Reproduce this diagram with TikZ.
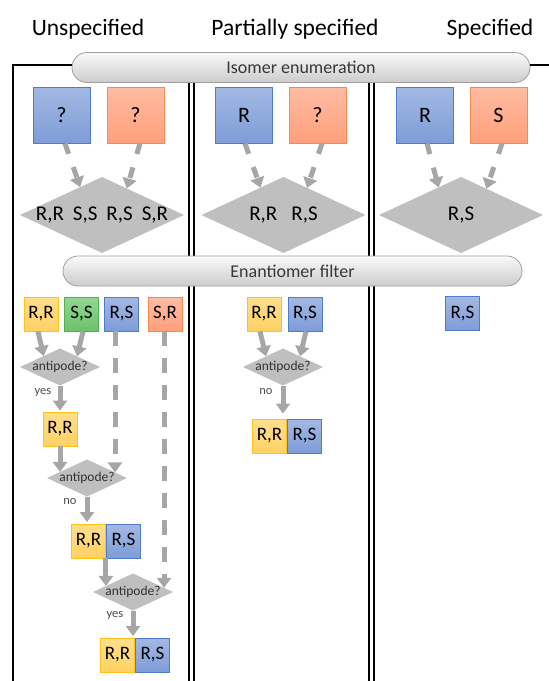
\documentclass[tikz,border=0pt]{standalone}
\usepackage{fontspec}
\setmainfont{Carlito}
\usetikzlibrary{shapes.geometric,arrows.meta,calc}

\definecolor{bluetop}{HTML}{A3B9E4}
\definecolor{bluebot}{HTML}{7E9CD8}
\definecolor{blueline}{HTML}{4E7CCB}
\definecolor{orangetop}{HTML}{FFBCA2}
\definecolor{orangebot}{HTML}{FF9F7C}
\definecolor{orangeline}{HTML}{F58A4E}
\definecolor{yellowtop}{HTML}{FFDF8C}
\definecolor{yellowbot}{HTML}{FFD164}
\definecolor{yellowline}{HTML}{FFC21A}
\definecolor{greentop}{HTML}{92D692}
\definecolor{greenbot}{HTML}{6CC26C}
\definecolor{greenline}{HTML}{55AD55}

\begin{document}
\begin{tikzpicture}[x=1pt,y=-1pt,
  header/.style={font=\fontsize{23.5}{28}\selectfont, anchor=base, inner sep=0pt},
  pill/.style={draw=gray!75, line width=0.8pt, rounded corners=15pt,
    top color=gray!4, bottom color=gray!40, minimum height=30pt, inner sep=0pt,
    font=\fontsize{18}{20}\selectfont, text=black!78},
  bigbox/.style={minimum width=57pt, minimum height=56pt, inner sep=0pt,
    line width=0.9pt, font=\fontsize{22}{24}\selectfont},
  smallbox/.style={minimum width=34pt, minimum height=34pt, inner sep=0pt,
    line width=0.9pt, font=\fontsize{19}{20}\selectfont},
  blu/.style={draw=blueline, top color=bluetop, bottom color=bluebot},
  org/.style={draw=orangeline, top color=orangetop, bottom color=orangebot},
  yel/.style={draw=yellowline, top color=yellowtop, bottom color=yellowbot},
  grn/.style={draw=greenline, top color=greentop, bottom color=greenbot},
  bigdia/.style={diamond, fill=gray!50, minimum width=164pt, minimum height=76pt,
    inner sep=0pt, outer sep=0pt},
  smalldia/.style={diamond, fill=gray!50, minimum width=80pt, minimum height=37pt,
    inner sep=0pt, outer sep=0pt},
  diatext/.style={font=\fontsize{21}{24}\selectfont, inner sep=0pt},
  asktext/.style={font=\fontsize{13.5}{15}\selectfont, inner sep=0pt, text=black!80},
  answer/.style={font=\fontsize{12.5}{14}\selectfont, inner sep=0pt, text=black!70},
  flow/.style={draw=gray!70, line width=5pt, -{Triangle[width=14pt,length=10pt]}},
  brk/.style={flow, dash pattern=on 11pt off 14pt},
  longdash/.style={flow, dash pattern=on 15pt off 12pt},
  frame/.style={line width=1.4pt},
  divider/.style={line width=1.2pt},
]
\useasboundingbox (0,0) rectangle (549,681);

% column headings
\node[header] (hU) at (88,35) {Unspecified};
\node[header] (hP) at (295,35) {Partially specified};
\node[header] (hS) at (490,35) {Specified};

% column dividers (double rules)
\draw[divider] (189,83) -- (189,682);
\draw[divider] (194,83) -- (194,682);
\draw[divider] (369,83) -- (369,682);
\draw[divider] (374,83) -- (374,682);

% stage bars
\node[pill, minimum width=458pt] (pill1) at (301,67.5) {Isomer enumeration};
\node[pill, minimum width=459pt] (pill2) at (292.5,271) {Enantiomer filter};

% outer frame
\coordinate (fbl) at (13,682);
\coordinate (fr) at (551,65);
\draw[frame] ($(pill1.west)+(0.2,-2.5)$) -| (fbl);
\draw[frame] ($(pill1.east)+(-0.2,-2.5)$) -- (fr);

% ---- isomer enumeration ----
\node[bigbox, blu] (b1) at (61.5,115) {?};
\node[bigbox, org] (o1) at (135.5,115) {?};
\node[bigbox, blu] (b2) at (244,115) {R};
\node[bigbox, org] (o2) at (317.5,115) {?};
\node[bigbox, blu] (b3) at (425,115) {R};
\node[bigbox, org] (o3) at (498.5,115) {S};

\node[bigdia] (d1) at (102,215) {};
\node[bigdia] (d2) at (283.5,215) {};
\node[bigdia] (d3) at (461,215) {};
\node[diatext] (d1t) at (d1) {R,R\hspace{9pt}S,S\hspace{9pt}R,S\hspace{9pt}S,R};
\node[diatext] (d2t) at (d2) {R,R\hspace{14pt}R,S};
\node[diatext] (d3t) at (d3) {R,S};

\draw[brk] ($(b1.south)+(3.5,0)$) -- (d1.128);
\draw[brk] ($(o1.south)+(4.5,0)$) -- (d1.47);
\draw[brk] ($(b2.south)+(1,0)$) -- (d2.130);
\draw[brk] ($(o2.south)+(4.5,0)$) -- (d2.49);
\draw[brk] ($(b3.south)+(2,0)$) -- (d3.129);
\draw[brk] ($(o3.south)+(3.5,0)$) -- (d3.46);

% ---- enantiomer filter: unspecified ----
\node[smallbox, yel] (rr1) at (41,314) {R,R};
\node[smallbox, grn] (ss1) at (81.5,314) {S,S};
\node[smallbox, blu] (rs1) at (121.5,314) {R,S};
\node[smallbox, org] (sr1) at (165,314) {S,R};

\node[smalldia] (a1) at (60,367) {};
\node[asktext] (a1t) at (a1) {antipode?};
\draw[flow] ($(rr1.south)+(-3,0)$) -- (a1.146);
\draw[flow] ($(ss1.south)+(1.5,0)$) -- (a1.32);
\node[answer] (y1) at (43,392) {yes};

\node[smallbox, yel] (rr2) at (60,429) {R,R};
\draw[flow, shorten >=1pt] (a1.south) -- (rr2.north);

\node[smalldia] (a2) at (87,478) {};
\node[asktext] (a2t) at (a2) {antipode?};
\coordinate (t3) at ($(a2.west)!0.325!(a2.north)$);
\coordinate (t1) at ($(a2.east)!0.3!(a2.north)$);
\draw[flow] (rr2.south) -- (rr2.south |- t3);
\draw[longdash] (rs1.south -| t1) -- (t1);
\node[answer] (n1) at (70,502) {no};

\node[smallbox, yel] (rr3) at (88.5,541) {R,R};
\node[smallbox, blu, anchor=west] (rs3) at (rr3.east) {R,S};
\draw[flow, shorten >=1.5pt] (a2.south) -- (a2.south |- rr3.north);

\node[smalldia] (a3) at (133,592) {};
\node[asktext] (a3t) at (a3) {antipode?};
\coordinate (t4) at ($(a3.west)!0.325!(a3.north)$);
\coordinate (t2) at ($(a3.east)!0.225!(a3.north)$);
\draw[flow] (rr3.south east) -- (rr3.south east |- t4);
\draw[longdash] (sr1.south -| t2) -- (t2);
\node[answer] (y2) at (115,615) {yes};

\node[smallbox, yel] (rr4) at (117.5,655) {R,R};
\node[smallbox, blu, anchor=west] (rs4) at (rr4.east) {R,S};
\draw[flow, shorten >=1.5pt] (a3.south) -- (a3.south |- rr4.north);

% ---- enantiomer filter: partially specified ----
\node[smallbox, yel] (rr5) at (264,314) {R,R};
\node[smallbox, blu] (rs5) at (305,314) {R,S};
\node[smalldia] (a4) at (283,367) {};
\node[asktext] (a4t) at (a4) {antipode?};
\draw[flow] ($(rr5.south)+(-4,0)$) -- (a4.148);
\draw[flow] ($(rs5.south)+(1,0)$) -- (a4.32);
\node[answer] (n2) at (266,392) {no};

\node[smallbox, yel] (rr6) at (269.5,436) {R,R};
\node[smallbox, blu, anchor=west] (rs6) at (rr6.east) {R,S};
\draw[flow, shorten >=5pt] (a4.south) -- (a4.south |- rr6.north);

% ---- enantiomer filter: specified ----
\node[smallbox, blu] (rs7) at (462.5,313.5) {R,S};
\end{tikzpicture}
\end{document}
